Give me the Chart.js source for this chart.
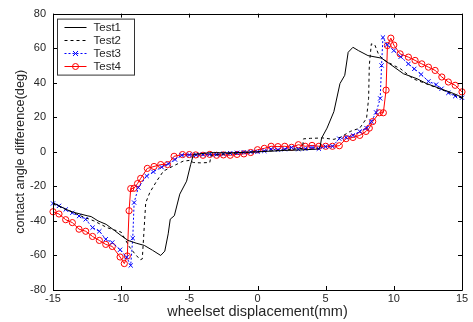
<!DOCTYPE html>
<html>
<head>
<meta charset="utf-8">
<script src="https://cdn.jsdelivr.net/npm/chart.js@4"></script>
<style>
html,body{margin:0;padding:0;background:#fff;}
canvas{display:block;}
</style>
</head>
<body>
<canvas id="c" width="473" height="322"></canvas>
<script>
// ---- data ----
const seriesLabels = ["Test1", "Test2", "Test3", "Test4"];
const xTicks = [-15, -10, -5, 0, 5, 10, 15];
const yTicks = [-80, -60, -40, -20, 0, 20, 40, 60, 80];

const test1X = [-15,-14.5,-14,-13.5,-13,-12.5,-12.2,-11.7,-11.1,-10.5,-10,-9.5,-8.9,-8.3,-7.7,-7.1,-6.8,-6.55,-6.4,-6.1,-5.7,-5.2,-4.9,-4.7,-3.4,-2,0,2,3,4.5,4.6,4.7,5.1,5.6,6.05,6.4,6.65,7,7.4,8.1,9.1,9.7,10.7,11.7,12.4,13.4,14.4,15];
const test1Y = [-29.5,-31.5,-33.5,-35,-36,-37,-37.5,-40,-42,-45.5,-48.5,-51.3,-52.9,-54.2,-57,-60,-57.5,-47.5,-39,-37,-24.5,-17,-7.3,-1.5,-0.5,-0.6,0,0.8,1,1.6,3.2,7.9,13.7,23.2,39.5,44.3,57.6,60.5,58.6,55.7,54.2,50.9,45.2,42.3,39.5,36.6,33.7,31.5];

const test2X = [-15,-14,-13,-12,-11,-10,-9.4,-9,-8.6,-8.45,-8.2,-7.9,-7.4,-6.9,-6.2,-5.45,-5,-4.7,-4.2,-3.5,-3.4,-2,0,2,3.3,3.37,3.9,4.8,5.6,6.1,6.8,7.5,8.0,8.15,8.2,8.35,8.6,8.9,9.3,10,10.5,11.4,12,13,14,15];
const test2Y = [-30,-33.5,-37,-40,-44,-46.5,-55,-59,-62.5,-62,-29.5,-23.6,-17,-11.2,-8.3,-5.4,-5,-6.2,-6.4,-6.2,-2,-1,0,1,2,7.5,7.8,8,7.2,8.5,11.8,13.7,19.4,31,50,62.5,62,56,53,50,48,42.3,40.5,37.5,34.5,31];

const test3X = [-15,-14.56,-14.07,-13.58,-13.09,-12.6,-12.1,-11.6,-11.13,-10.65,-10.08,-9.6,-9.3,-9.15,-9.05,-8.74,-8.13,-7.64,-7.03,-6.54,-6.05,-5.56,-5,-4.5,-4,-3.5,-3,-2.5,-2,-1.5,-1,-0.5,0,0.5,1,1.5,2,2.5,3,3.5,4,4.5,5,5.5,6,6.5,7,7.5,8,8.35,8.7,9,9.1,9.2,9.5,10,10.5,11.07,11.5,12,12.54,13.1,13.5,14,14.5,15];
const test3Y = [-29.9,-31.3,-33.4,-35.3,-37.2,-39.1,-43.9,-46,-50.6,-52.5,-56.7,-61,-65.8,-50,-29.4,-20.7,-14,-11.6,-8.9,-7,-4.5,-2,-1.8,-1.8,-1.6,-1.5,-1.5,-1.2,-0.8,-0.6,-0.3,-0.1,0,0.5,1.5,1.2,1.5,2.5,1.5,1.8,2.5,1.8,3,3.2,7.6,8.3,9.5,11.8,13.7,17.5,22.8,30.9,50,66.2,62,58.6,55,50.9,48,44.8,40.8,38.9,36.5,34.1,32.2,31.3];

const test4X = [-15,-14.56,-14.07,-13.58,-13.09,-12.6,-12.1,-11.6,-11.13,-10.65,-10.08,-9.77,-9.55,-9.42,-9.3,-9.06,-8.8,-8.57,-8.08,-7.59,-7.1,-6.6,-6.12,-5.5,-5,-4.53,-4,-3.5,-3,-2.5,-2,-1.5,-1,-0.5,0,0.5,1,1.5,2,2.5,3,3.5,4,4.5,5,5.5,6,6.5,7,7.5,7.96,8.2,8.45,8.94,9.23,9.43,9.53,9.78,10,10.46,11.07,11.56,12.05,12.54,13.03,13.52,14,14.5,15];
const test4Y = [-34.7,-36,-39.3,-41,-44.8,-46,-49,-51.3,-53.6,-54.8,-60.9,-64.7,-60.3,-34.1,-21.3,-21.1,-18.4,-15.4,-9.6,-8.5,-7.4,-7.4,-2.6,-1.6,-1.6,-1.8,-2,-1.5,-2,-1.8,-2,-1.5,-1.2,-0.4,1.2,2,3.2,3,3.2,2.6,4.1,3.2,3.7,3.2,3.2,3.2,3.5,7.6,8.3,9.5,11.8,13.7,17.5,22.6,22.6,35.7,61.5,65.8,61.8,56.7,54.8,52.9,50.9,49,47.1,43.3,40.4,38.5,34.7];

function pts(xs, ys) { return xs.map((x, i) => ({x: x, y: ys[i]})); }

const FONT = "'Liberation Sans', Arial, sans-serif";
const TEXT = '#262626';

const styles = [
  {color: '#000000', dash: [], marker: null},
  {color: '#000000', dash: [3, 3], marker: null},
  {color: '#0000ff', dash: [2, 2], marker: 'crossRot'},
  {color: '#ff0000', dash: [], marker: 'circle'}
];

const boxPlugin = {
  id: 'matlabBox',
  afterDatasetsDraw(chart) {
    const {ctx, chartArea: a, scales} = chart;
    ctx.save();
    ctx.strokeStyle = '#000';
    ctx.lineWidth = 1;
    ctx.setLineDash([]);
    ctx.beginPath();
    ctx.rect(Math.round(a.left) + 0.5, Math.round(a.top) + 0.5, Math.round(a.right - a.left), Math.round(a.bottom - a.top));
    ctx.stroke();
    const L = 4;
    ctx.beginPath();
    xTicks.forEach(v => {
      const px = Math.round(scales.x.getPixelForValue(v)) + 0.5;
      ctx.moveTo(px, a.bottom); ctx.lineTo(px, a.bottom - L);
      ctx.moveTo(px, a.top); ctx.lineTo(px, a.top + L);
    });
    yTicks.forEach(v => {
      const py = Math.round(scales.y.getPixelForValue(v)) + 0.5;
      ctx.moveTo(a.left, py); ctx.lineTo(a.left + L, py);
      ctx.moveTo(a.right, py); ctx.lineTo(a.right - L, py);
    });
    ctx.stroke();
    ctx.restore();
  },
  afterDraw(chart) {
    const {ctx, chartArea: a} = chart;
    ctx.save();
    const bx = a.left + 4.5, by = a.top + 5.5, bw = 77, bh = 56;
    ctx.fillStyle = '#fff';
    ctx.fillRect(bx, by, bw, bh);
    ctx.strokeStyle = '#333';
    ctx.lineWidth = 1;
    ctx.setLineDash([]);
    ctx.strokeRect(bx, by, bw, bh);
    ctx.font = '11.5px ' + FONT;
    ctx.textBaseline = 'middle';
    ctx.textAlign = 'left';
    chart.data.datasets.forEach((ds, i) => {
      const st = styles[i];
      const y = Math.round(by + 8 + i * 12.8) + 0.5;
      ctx.strokeStyle = st.color;
      ctx.lineWidth = 1;
      ctx.setLineDash(st.dash);
      ctx.beginPath();
      ctx.moveTo(bx + 7, y); ctx.lineTo(bx + 29, y);
      ctx.stroke();
      ctx.setLineDash([]);
      const cx = bx + 18;
      if (st.marker === 'crossRot') {
        ctx.beginPath();
        ctx.moveTo(cx - 2.5, y - 2.5); ctx.lineTo(cx + 2.5, y + 2.5);
        ctx.moveTo(cx - 2.5, y + 2.5); ctx.lineTo(cx + 2.5, y - 2.5);
        ctx.stroke();
      } else if (st.marker === 'circle') {
        ctx.beginPath();
        ctx.arc(cx, y, 3, 0, Math.PI * 2);
        ctx.stroke();
      }
      ctx.fillStyle = TEXT;
      ctx.fillText(ds.label, bx + 36, y);
    });
    ctx.restore();
  }
};

const datasets = [
  {label: seriesLabels[0], data: pts(test1X, test1Y), borderColor: styles[0].color, borderWidth: 1, pointRadius: 0, showLine: true},
  {label: seriesLabels[1], data: pts(test2X, test2Y), borderColor: styles[1].color, borderDash: styles[1].dash, borderWidth: 1, pointRadius: 0, showLine: true},
  {label: seriesLabels[2], data: pts(test3X, test3Y), borderColor: styles[2].color, borderDash: styles[2].dash, borderWidth: 1, pointStyle: 'crossRot', pointRadius: 3, pointBorderWidth: 1, pointBorderColor: styles[2].color, backgroundColor: 'transparent', showLine: true, clip: false},
  {label: seriesLabels[3], data: pts(test4X, test4Y), borderColor: styles[3].color, borderWidth: 1, pointStyle: 'circle', pointRadius: 3.1, pointBorderWidth: 1, pointBorderColor: styles[3].color, pointBackgroundColor: 'transparent', backgroundColor: 'transparent', showLine: true, clip: false}
];

new Chart(document.getElementById('c'), {
  type: 'scatter',
  data: {datasets: datasets},
  options: {
    responsive: false,
    animation: false,
    layout: {padding: {top: 11, right: 11, left: 0, bottom: 0}},
    elements: {line: {tension: 0}},
    plugins: {legend: {display: false}, tooltip: {enabled: false}},
    scales: {
      x: {
        type: 'linear', min: -15, max: 15,
        afterFit(s) { s.height = 32; },
        afterBuildTicks(s) { s.ticks = xTicks.map(v => ({value: v})); },
        grid: {display: false, drawTicks: false},
        border: {display: false},
        ticks: {color: TEXT, font: {family: FONT, size: 11}, padding: 2, maxRotation: 0, autoSkip: false},
        title: {display: true, text: 'wheelset displacement(mm)', color: TEXT, font: {family: FONT, size: 14.5}, padding: {top: 0, bottom: 1}}
      },
      y: {
        type: 'linear', min: -80, max: 80,
        afterFit(s) { s.width = 53; },
        afterBuildTicks(s) { s.ticks = yTicks.map(v => ({value: v})); },
        grid: {display: false, drawTicks: false},
        border: {display: false},
        ticks: {color: TEXT, font: {family: FONT, size: 11}, padding: 7, autoSkip: false},
        title: {display: true, text: 'contact angle difference(deg)', color: TEXT, font: {family: FONT, size: 12.7}, padding: {top: 13, bottom: 0}}
      }
    }
  },
  plugins: [boxPlugin]
});
</script>
</body>
</html>
